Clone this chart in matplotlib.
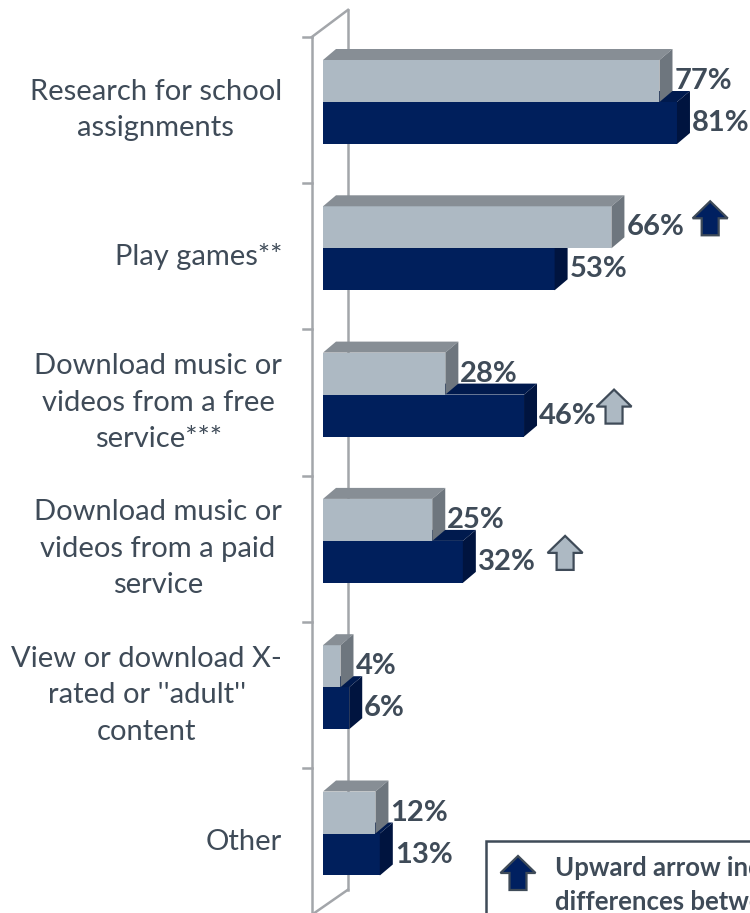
import matplotlib
matplotlib.use('Agg')
import matplotlib.pyplot as plt
from matplotlib.patches import Polygon, Rectangle

categories = ['Research for school\nassignments',
              'Play games**',
              'Download music or\nvideos from a free\nservice***',
              'Download music or\nvideos from a paid\nservice',
              'View or download X-\nrated or \'\'adult\'\'\ncontent',
              'Other']
earlier = [77, 66, 28, 25, 4, 12]   # light grey series (top bar)
later = [81, 53, 46, 32, 6, 13]     # navy series (bottom bar)

# significance arrows: (category index, series row, x position in %)
arrows = [(1, 0, 88.6, 'navy'), (2, 1, 66.6, 'grey'), (3, 1, 55.4, 'grey')]

legend_lines = ['Upward arrow indicates', 'differences between']

TEXT = '#3f4b58'
WALL = '#a3a6aa'
LIGHT = {'front': '#adb9c3', 'top': '#878e95', 'side': '#6e767e'}
DARK = {'front': '#001f5c', 'top': '#001a4e', 'side': '#00143f'}
ARROW_FILL = {'navy': '#002060', 'grey': '#adb9c3'}

W, H = 750, 913
X0, XS = 323.0, 4.37      # pixel of 0 %, pixels per %
Y0, YS = 110.0, 146.3     # pixel of first category, pixels per category

def dx(px):
    return px / XS

def dy(px):
    return px / YS

fig = plt.figure(figsize=(W / 100, H / 100), dpi=100)
ax = fig.add_axes([0, 0, 1, 1])
ax.set_xlim(-X0 / XS, (W - X0) / XS)
ax.set_ylim((H - Y0) / YS, -Y0 / YS)
ax.axis('off')

# side wall of the 3d frame
front_x, back_x = dx(-11), dx(25)
top_y = -0.5
ax.plot([front_x, front_x], [top_y, 6], color=WALL, lw=1.8, zorder=1)
ax.plot([back_x, back_x], [top_y - dy(27), 5.5 - dy(25)], color=WALL, lw=1.8, zorder=1)
ax.plot([front_x, back_x], [top_y, top_y - dy(27)], color=WALL, lw=1.8, zorder=1)
ax.plot([back_x, front_x], [5.5 - dy(25), 5.5], color=WALL, lw=1.8, zorder=1)
for i in range(len(categories)):
    ax.plot([front_x - dx(9), front_x], [i - 0.5, i - 0.5], color=WALL, lw=1.8, zorder=1)
    ax.text(dx(-41), i, categories[i], ha='right', va='center', multialignment='center',
            fontsize=21, color=TEXT, family='Lato', linespacing=1.5)

bar_h = dy(42)
shift = dy(-8)
ddx, ddy = dx(13), dy(11)

def draw_bar(i, v, row, cols, z):
    top = i + shift - bar_h + row * bar_h
    bottom = top + bar_h
    ax.barh(top + bar_h / 2, v, height=bar_h, left=0, color=cols['front'],
            edgecolor='none', zorder=z)
    ax.add_patch(Polygon([(0, top), (v, top), (v + ddx, top - ddy), (ddx, top - ddy)],
                         closed=True, facecolor=cols['top'], edgecolor='none', zorder=z))
    ax.add_patch(Polygon([(v, top), (v + ddx, top - ddy), (v + ddx, bottom - ddy), (v, bottom)],
                         closed=True, facecolor=cols['side'], edgecolor='none', zorder=z))
    ax.text(v + ddx + dx(2), top + bar_h / 2, '%d%%' % v, ha='left', va='center',
            fontsize=21, fontweight='bold', color=TEXT, family='Lato', zorder=5)

for i in range(len(categories)):
    draw_bar(i, later[i], 1, DARK, 2)
for i in range(len(categories)):
    draw_bar(i, earlier[i], 0, LIGHT, 3)

def up_arrow(cx, cy, fill, z=6, w=35, h=34, shaft=17, head=17):
    pts = [(cx + dx(-w / 2), cy + dy(head - h / 2)),
           (cx, cy - dy(h / 2)),
           (cx + dx(w / 2), cy + dy(head - h / 2)),
           (cx + dx(shaft / 2), cy + dy(head - h / 2)),
           (cx + dx(shaft / 2), cy + dy(h / 2)),
           (cx - dx(shaft / 2), cy + dy(h / 2)),
           (cx - dx(shaft / 2), cy + dy(head - h / 2))]
    ax.add_patch(Polygon(pts, closed=True, facecolor=fill, edgecolor=TEXT,
                         lw=1.6, joinstyle='miter', zorder=z))

for i, row, xpos, kind in arrows:
    cy = i + shift - bar_h / 2 + row * bar_h + dy(-9)
    up_arrow(xpos, cy, ARROW_FILL[kind])

# legend box, running off the bottom right corner
lx, ly = dx(486 - X0), dy(841 - Y0)
ax.add_patch(Rectangle((lx, ly), dx(400), dy(200), facecolor='white',
                       edgecolor=TEXT, lw=1.8, zorder=7))
up_arrow(dx(518 - X0), dy(873 - Y0), ARROW_FILL['navy'], z=8)
for k, line in enumerate(legend_lines):
    ax.text(dx(555 - X0), dy(868 - Y0 + 34 * k), line, ha='left', va='center',
            fontsize=18.5, fontweight='bold', color=TEXT, family='Lato', zorder=8,
            clip_on=True)

fig.savefig('out.png', dpi=100)
